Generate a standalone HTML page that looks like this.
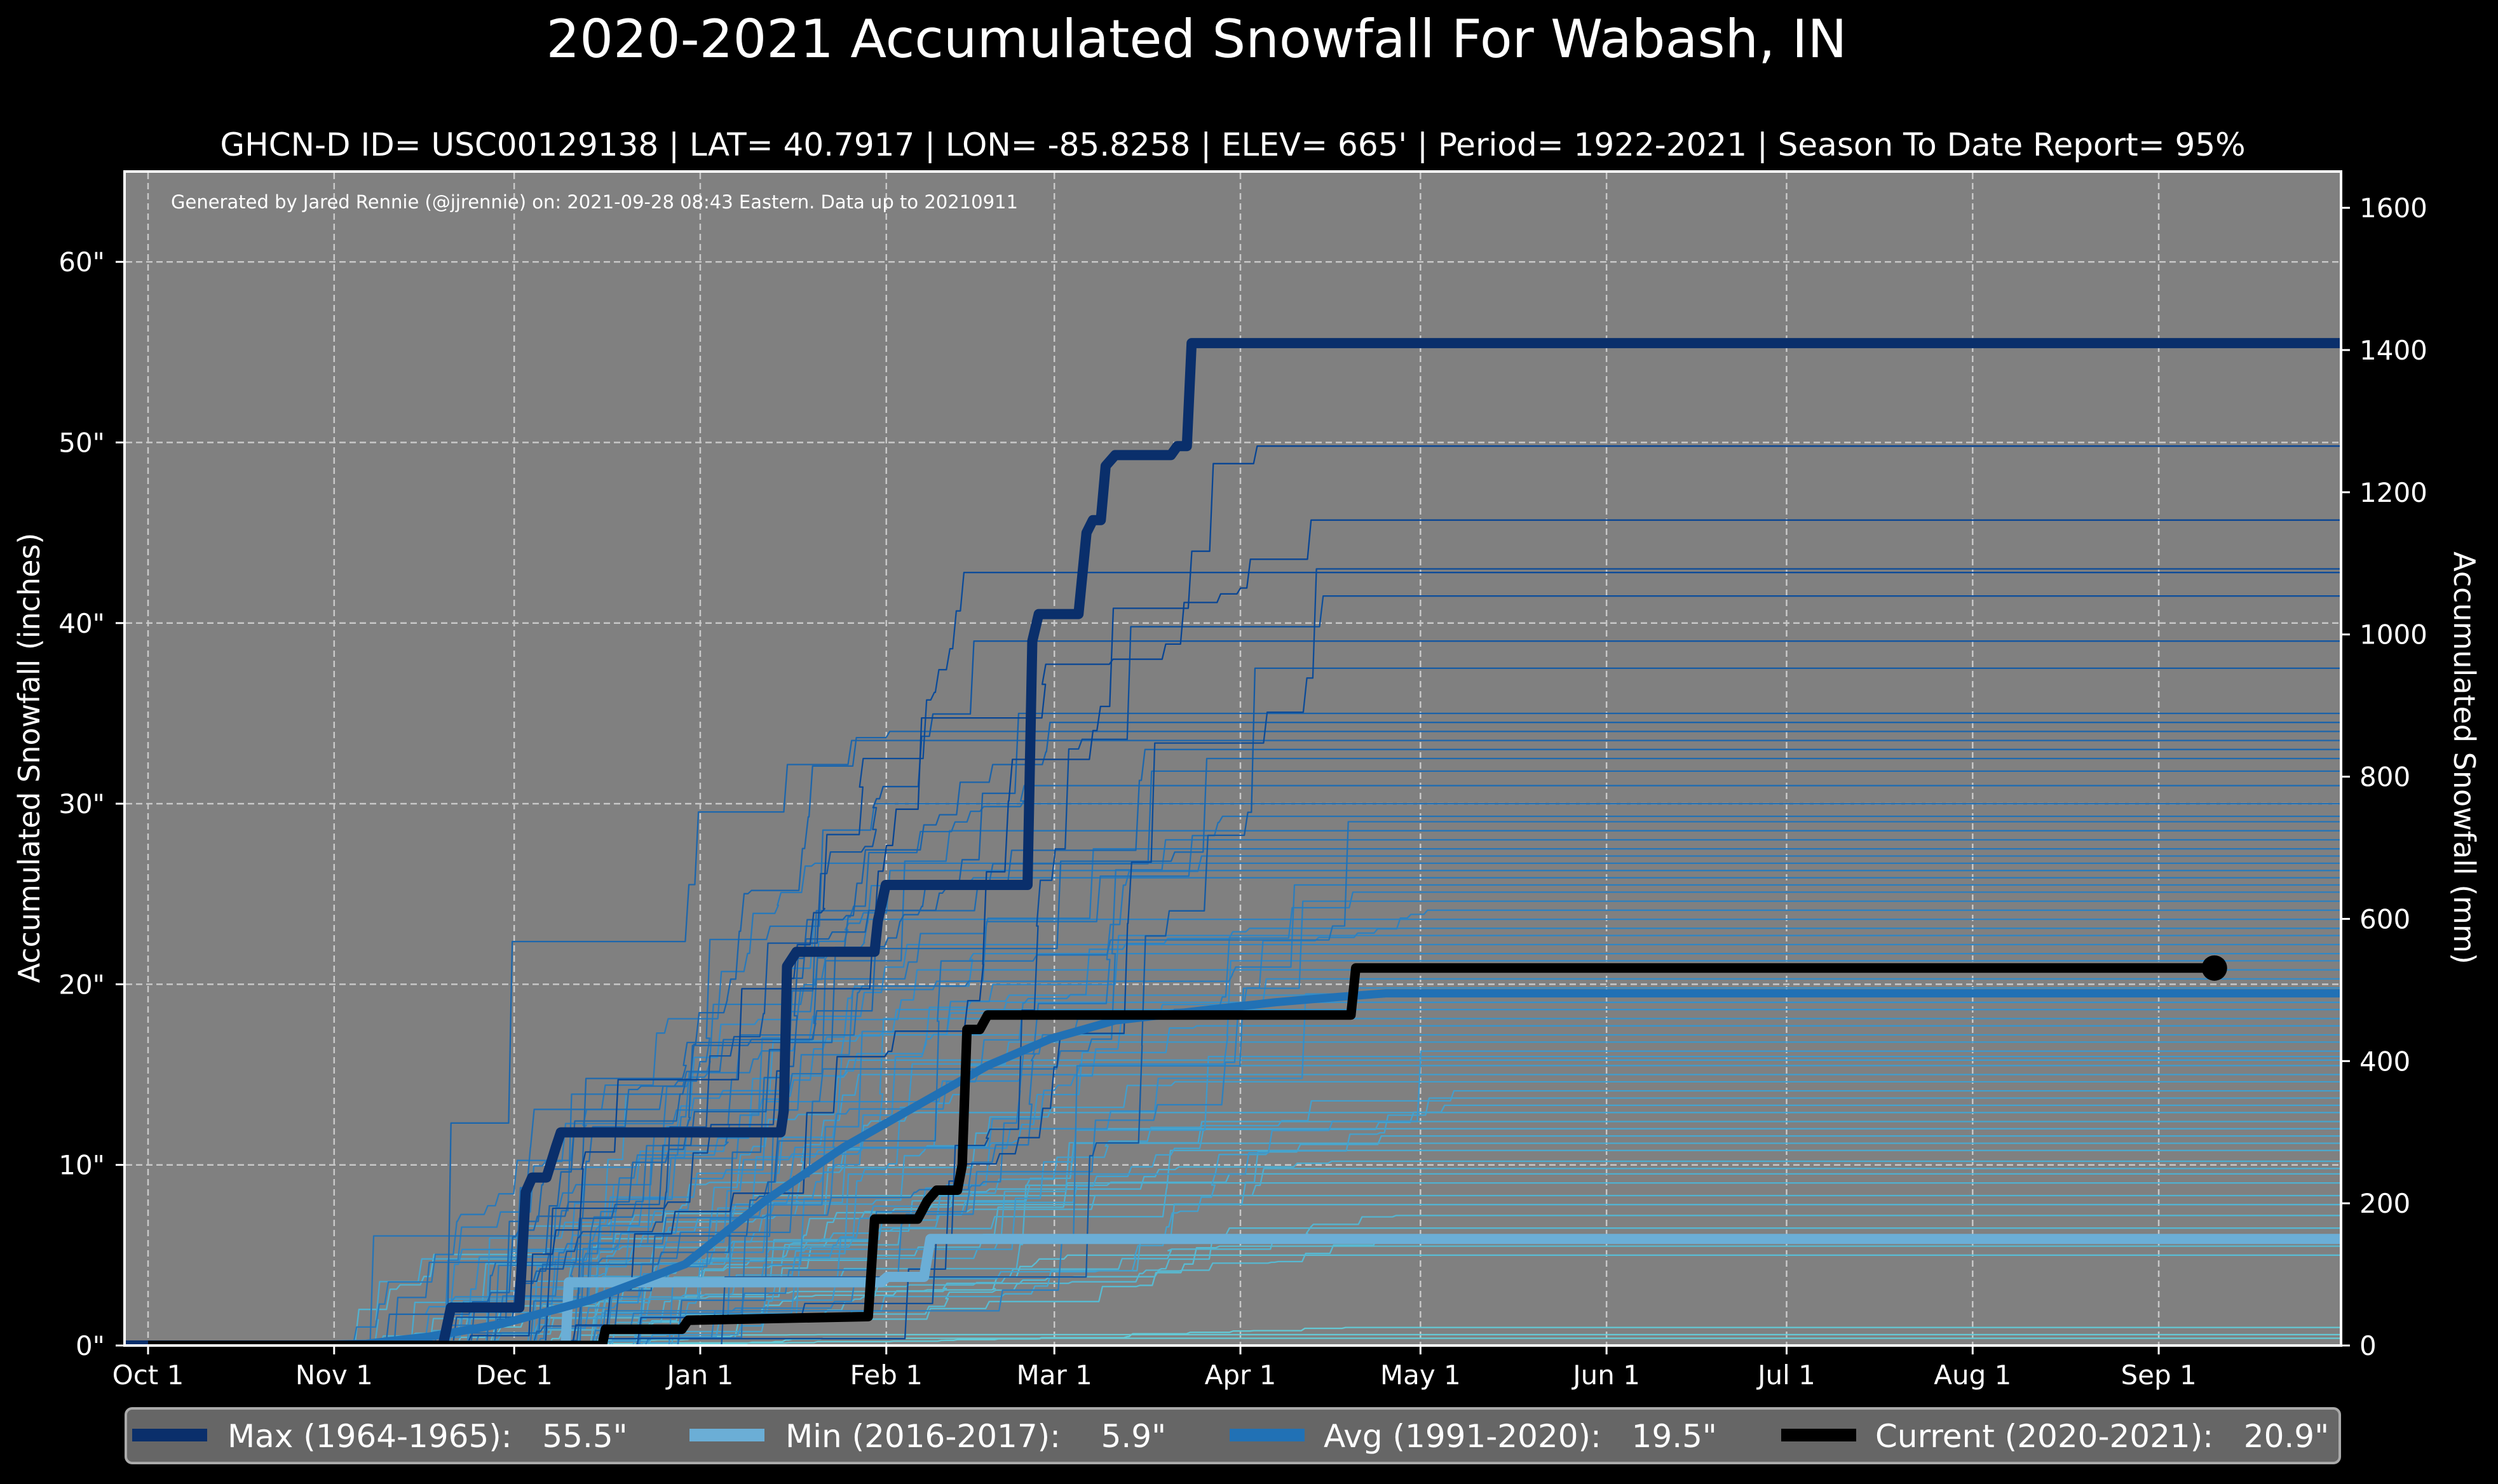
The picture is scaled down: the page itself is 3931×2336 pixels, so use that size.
<!DOCTYPE html>
<html><head><meta charset="utf-8">
<style>
html,body{margin:0;padding:0;background:#000;}
svg{display:block;font-family:"DejaVu Sans","Liberation Sans",sans-serif;}
</style></head>
<body>
<svg id="s" width="3931" height="2336" viewBox="0 0 3931 2336" xmlns="http://www.w3.org/2000/svg">
<rect width="3931" height="2336" fill="#000"/>
<text x="1883" y="90" fill="#fff" font-size="83" text-anchor="middle">2020-2021 Accumulated Snowfall For Wabash, IN</text>
<text x="1940" y="245" fill="#fff" font-size="50" text-anchor="middle">GHCN-D ID= USC00129138 | LAT= 40.7917 | LON= -85.8258 | ELEV= 665' | Period= 1922-2021 | Season To Date Report= 95%</text>
<defs><clipPath id="cp"><rect x="196" y="270" width="3488" height="1848"/></clipPath></defs>
<rect x="196" y="270" width="3488" height="1848" fill="#808080"/>
<g id="grid" stroke="#c8c8c8" stroke-width="2.5" stroke-dasharray="10,6" fill="none"></g>
<g id="thin" clip-path="url(#cp)" fill="none" stroke-width="2.3" stroke-linejoin="round"></g>
<g id="main" clip-path="url(#cp)" fill="none" stroke-linejoin="round"></g>
<text x="269" y="328" fill="#fff" font-size="29">Generated by Jared Rennie (@jjrennie) on: 2021-09-28 08:43 Eastern. Data up to 20210911</text>
<rect x="196" y="270" width="3488" height="1848" fill="none" stroke="#fff" stroke-width="4"/>
<g id="ticks" fill="#fff" font-size="42"></g>
<text transform="translate(62,1193) rotate(-90)" fill="#fff" font-size="46" text-anchor="middle">Accumulated Snowfall (inches)</text>
<text transform="translate(3862,1193) rotate(90)" fill="#fff" font-size="46" text-anchor="middle">Accumulated Snowfall (mm)</text>
<rect x="198" y="2217" width="3484" height="86" rx="10" fill="#666" stroke="#aaa" stroke-width="4"/>
<g font-size="50" fill="#fff">
<rect x="208" y="2249" width="118" height="20" fill="#0a2f6b"/>
<text x="358" y="2278" xml:space="preserve">Max (1964-1965):   55.5"</text>
<rect x="1085" y="2249" width="118" height="20" fill="#6baed6"/>
<text x="1236" y="2278" xml:space="preserve">Min (2016-2017):    5.9"</text>
<rect x="1935" y="2249" width="118" height="20" fill="#2171b5"/>
<text x="2083" y="2278" xml:space="preserve">Avg (1991-2020):   19.5"</text>
<rect x="2803" y="2249" width="118" height="20" fill="#000"/>
<text x="2951" y="2278" xml:space="preserve">Current (2020-2021):   20.9"</text>
</g>
</svg>
<script>
const NS="http://www.w3.org/2000/svg";
const X=d=>233+d*9.445, Y=v=>2118-v*28.43;
function el(p,t,a,txt){const e=document.createElementNS(NS,t);for(const k in a)e.setAttribute(k,a[k]);if(txt!=null)e.textContent=txt;document.getElementById(p).appendChild(e);return e;}
const months=[["Oct 1",0],["Nov 1",31],["Dec 1",61],["Jan 1",92],["Feb 1",123],["Mar 1",151],["Apr 1",182],["May 1",212],["Jun 1",243],["Jul 1",273],["Aug 1",304],["Sep 1",335]];
months.forEach(([l,d])=>{const x=X(d);el("grid","line",{x1:x,x2:x,y1:272,y2:2116});
 el("ticks","line",{x1:x,x2:x,y1:2118,y2:2132,stroke:"#fff","stroke-width":3});
 el("ticks","text",{x:x,y:2179,"text-anchor":"middle"},l);});
for(let v=0;v<=60;v+=10){const y=Y(v);if(v>0)el("grid","line",{x1:198,x2:3682,y1:y,y2:y});
 el("ticks","line",{x1:182,x2:196,y1:y,y2:y,stroke:"#fff","stroke-width":3});
 el("ticks","text",{x:165,y:y+15,"text-anchor":"end"},v+'"');}
for(let m=0;m<=1600;m+=200){const y=Y(m/25.4);
 el("ticks","line",{x1:3684,x2:3698,y1:y,y2:y,stroke:"#fff","stroke-width":3});
 el("ticks","text",{x:3713,y:y+15},m);}
let seed=777;const R=()=>{seed=(seed*1103515245+12345)%2147483648;return seed/2147483648;};
const finals=[0.4,0.6,1.0,5.0,5.5,6.0,6.5,7.2,7.8,8.3,9.0,9.5,9.8,10.2,10.8,11.2,11.6,12.0,12.4,12.9,13.3,13.7,14.1,14.6,15.0,15.5,15.8,16.0,16.3,16.8,17.2,17.7,18.1,18.6,19.0,19.4,19.8,20.3,20.8,21.3,21.7,22.2,22.7,23.1,23.6,24.1,24.6,25.1,25.5,25.9,26.3,26.7,27.1,27.5,28.0,28.5,29.0,29.3,30.0,31.0,31.8,32.5,33.0,33.5,34.0,34.5,35.0,37.5,39.0,41.5,42.8,43.0,45.7,49.8];
function lerpC(t){const a=[102,204,214],m=[52,140,200],b=[8,69,148];let c;if(t<0.45){const u=t/0.45;c=a.map((v,i)=>v+(m[i]-v)*u);}else{const u=Math.min(1,(t-0.45)/0.55);c=m.map((v,i)=>v+(b[i]-v)*u);}return `rgb(${c.map(Math.round).join(",")})`;}
finals.forEach(T=>{
 const start=28+R()*55, end=Math.min(220,start+65+R()*95);
 const n=6+Math.floor(R()*18);const ev=[];let s=0;
 for(let k=0;k<n;k++){const d=start+(end-start)*Math.pow(R(),0.9);const a=Math.pow(R(),1.6)+0.05;ev.push([d,a]);s+=a;}
 ev.sort((a,b)=>a[0]-b[0]);
 let v=0,p=`M${X(-5)},${Y(0)} L${X(ev[0][0])},${Y(0)}`;
 ev.forEach(([d,a])=>{p+=` L${X(d).toFixed(1)},${Y(v).toFixed(1)}`;v+=a/s*T;p+=` L${X(d+0.6).toFixed(1)},${Y(v).toFixed(1)}`;});
 p+=` L${X(370)},${Y(v).toFixed(1)}`;
 el("thin","path",{d:p,stroke:lerpC(T/45)});
});
function step(pts){let p="";pts.forEach(([d,v],i)=>{p+=(i?" L":"M")+X(d).toFixed(1)+","+Y(v).toFixed(1);});return p;}
const ox=x=>(x*2.507-233)/9.445;
el("main","path",{d:step([[-5,0],[ox(355),0],[ox(357),3.5],[ox(553),3.5],[ox(557),3.8],[ox(580),3.8],[ox(584),5.9],[370,5.9]]),stroke:"#6baed6","stroke-width":16});
const av=[[180,0],[230,0.1],[270,0.5],[315,1.2],[370,2.5],[430,4.5],[480,8],[530,11],[570,13],[620,15.5],[660,17],[700,18],[750,18.5],[800,19],[840,19.3],[870,19.5],[1480,19.5]];
el("main","path",{d:step([[-5,0]].concat(av.map(([x,v])=>[ox(x),v]))),stroke:"#2171b5","stroke-width":13});
const mx=[[-5,0],[ox(278),0],[ox(283),2.1],[ox(326),2.1],[ox(330),8.5],[ox(334),9.3],[ox(343),9.3],[ox(349),11],[ox(352),11.8],[ox(490),11.8],[ox(492),13],[ox(494),21],[ox(500),21.8],[ox(549),21.8],[ox(551),23.5],[ox(556),25.5],[ox(645),25.5],[ox(648),39],[ox(652),40.5],[ox(677),40.5],[ox(682),45],[ox(686),45.7],[ox(691),45.7],[ox(694),48.7],[ox(700),49.3],[ox(735),49.3],[ox(739),49.8],[ox(745),49.8],[ox(748),55.5],[370,55.5]];
el("main","path",{d:step(mx),stroke:"#0a2f6b","stroke-width":16});
const cu=[[0,0],[ox(378),0],[ox(380),0.9],[ox(428),0.9],[ox(432),1.4],[ox(545),1.6],[ox(549),7],[ox(576),7],[ox(582),8],[ox(588),8.6],[ox(601),8.6],[ox(604),10],[ox(607),17.5],[ox(615),17.5],[ox(620),18.3],[ox(848),18.3],[ox(851),20.9],[ox(1390),20.9]];
el("main","path",{d:step(cu),stroke:"#000","stroke-width":15});
el("main","circle",{cx:1390*2.507,cy:Y(20.9),r:20,fill:"#000"});
</script>
</body></html>
